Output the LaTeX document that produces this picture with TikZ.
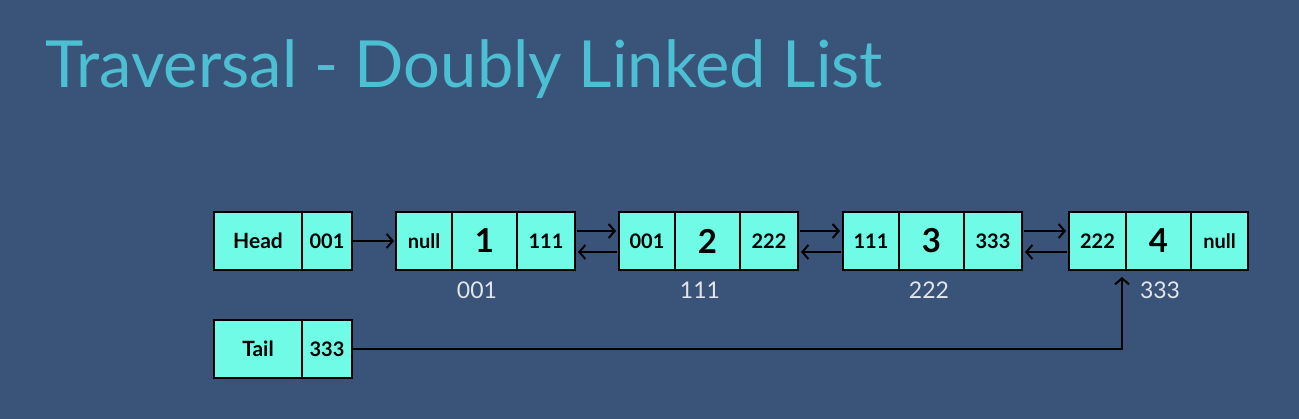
\documentclass[tikz,border=0pt]{standalone}
\usepackage{fontspec}
\usetikzlibrary{arrows.meta,calc}
\newfontfamily\cellfont{Lato}
\definecolor{bg}{HTML}{3A5379}
\definecolor{titlec}{HTML}{4DBFD3}
\definecolor{cellc}{HTML}{6FFBE6}
\definecolor{labc}{HTML}{E2E6EC}
\tikzset{
  cell/.style={draw=black, line width=2pt, fill=cellc, minimum height=58pt,
    inner sep=0pt, outer sep=0pt, anchor=north west,
    font=\cellfont\bfseries\fontsize{20}{20}\selectfont},
  bigcell/.style={cell, font=\cellfont\bfseries\fontsize{33}{33}\selectfont},
  namecell/.style={cell, font=\cellfont\bfseries\fontsize{21}{21}\selectfont},
  link/.style={draw=black, line width=2pt, -{Straight Barb[length=6pt,width=14pt,line width=2pt]}},
  lab/.style={text=labc, font=\cellfont\fontsize{23}{23}\selectfont, inner sep=0pt},
}
\begin{document}
\begin{tikzpicture}[x=1pt,y=-1pt]
\fill[bg] (0,0) rectangle (1299,419);
\useasboundingbox (0,0) rectangle (1299,419);
\node[anchor=base west, text=titlec, font=\cellfont\fontsize{65}{65}\selectfont, inner sep=0pt] (title) at (45,88) {Traversal - Doubly Linked List};
% head
\node[namecell, minimum width=88pt] (h1) at (214,212) {Head};
\node[cell, minimum width=50pt] (h2) at (h1.north east) {001};
% tail
\node[namecell, minimum width=88pt] (t1) at (214,320) {Tail};
\node[cell, minimum width=50pt] (t2) at (t1.north east) {333};
% node 1
\node[cell, minimum width=56pt] (n1a) at (396,212) {null};
\node[bigcell, minimum width=65pt] (n1b) at (n1a.north east) {1};
\node[cell, minimum width=58pt] (n1c) at (n1b.north east) {111};
% node 2
\node[cell, minimum width=56pt] (n2a) at (619,212) {001};
\node[bigcell, minimum width=65pt] (n2b) at (n2a.north east) {2};
\node[cell, minimum width=58pt] (n2c) at (n2b.north east) {222};
% node 3
\node[cell, minimum width=56pt] (n3a) at (843,212) {111};
\node[bigcell, minimum width=65pt] (n3b) at (n3a.north east) {3};
\node[cell, minimum width=58pt] (n3c) at (n3b.north east) {333};
% node 4
\node[cell, minimum width=57pt] (n4a) at (1069,212) {222};
\node[bigcell, minimum width=65pt] (n4b) at (n4a.north east) {4};
\node[cell, minimum width=57pt] (n4c) at (n4b.north east) {null};
% address labels
\node[lab] (l1) at (477,290) {001};
\node[lab] (l2) at (700,290) {111};
\node[lab] (l3) at (929,290) {222};
\node[lab] (l4) at (1160,290) {333};
% links
\draw[link, shorten <=1pt, shorten >=2pt] (h2.east) -- (n1a.west);
\foreach \a/\b in {n1c/n2a, n2c/n3a, n3c/n4a}{
  \draw[link, shorten <=2pt, shorten >=3pt] ([yshift=10pt]\a.east) -- ([yshift=10pt]\b.west);
  \draw[link, shorten <=2pt, shorten >=3pt] ([yshift=-11pt]\b.west) -- ([yshift=-11pt]\a.east);
}
\draw[link, shorten <=1pt] (t2.east) -| ([xshift=-4pt,yshift=-7pt]n4a.south east);
\end{tikzpicture}
\end{document}
